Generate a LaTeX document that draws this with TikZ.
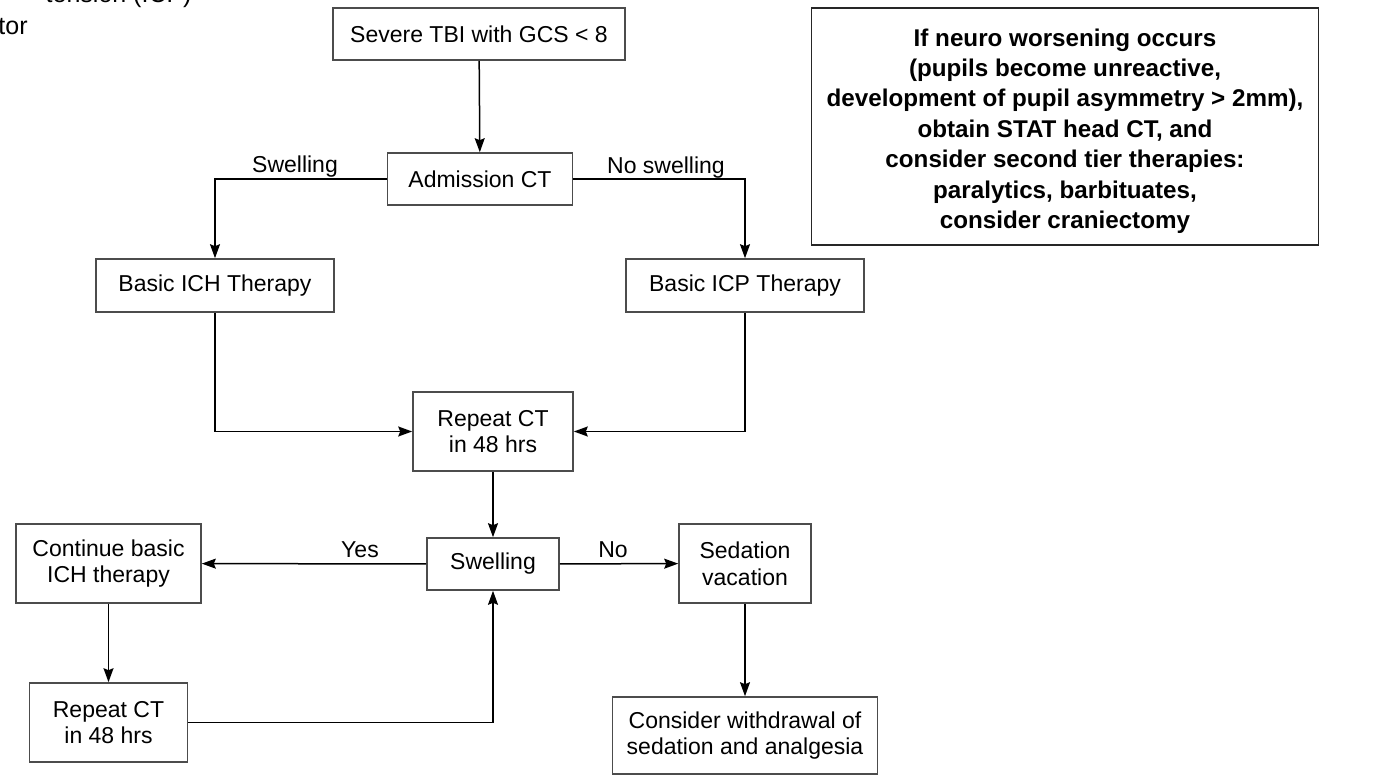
\documentclass[tikz,border=0pt]{standalone}
\usepackage{fontspec}
\setmainfont{Liberation Sans}
\usetikzlibrary{arrows.meta}

\begin{document}
\begin{tikzpicture}[x=0.5pt, y=-0.5pt,
    box/.style = {draw=black!70, line width=0.8pt, inner sep=0pt, align=center,
                  font=\fontsize{11.5}{13.3}\selectfont},
    note/.style = {draw=black!85, line width=0.9pt, inner sep=0pt},
    notetext/.style = {inner sep=0pt, align=center,
                       font=\fontsize{12.1}{15.2}\selectfont\bfseries},
    lbl/.style = {inner sep=0pt, font=\fontsize{11.5}{13.3}\selectfont},
    corner/.style = {inner sep=0pt, font=\fontsize{12.5}{15}\selectfont},
    arr/.style = {line width=0.75pt, -{Stealth[length=7pt, width=5pt, inset=1pt]}}]
    \useasboundingbox (0,0) rectangle (1397,775);
    % cut-off text in the corner
    \node[corner, anchor=base east] (top1) at (192,3) {tension (ICP)};
    \node[corner, anchor=base east] (top2) at (28,35) {tor};
    % boxes
    \node[box, minimum width=146pt, minimum height=26pt] (tbi) at (479,34) {Severe TBI with GCS < 8};
    \node[box, minimum width=92.5pt, minimum height=26pt] (adm) at (480,179) {Admission CT};
    \node[box, minimum width=119pt, minimum height=26.5pt] (ich) at (215,285.5) {Basic ICH Therapy};
    \node[box, minimum width=119pt, minimum height=26.5pt] (icp) at (745,285.5) {Basic ICP Therapy};
    \node[box, minimum width=80pt, minimum height=39.5pt] (rep) at (493,431.5) {Repeat CT\\in 48 hrs};
    \node[box, minimum width=66pt, minimum height=26pt] (swl) at (493,564) {Swelling};
    \node[box, minimum width=92.5pt, minimum height=39.5pt] (cont) at (108.5,563.5) {Continue basic\\ICH therapy};
    \node[box, minimum width=79pt, minimum height=39.5pt] (rep2) at (108.5,722.5) {Repeat CT\\in 48 hrs};
    \node[box, minimum width=66pt, minimum height=39.5pt] (sed) at (745,563.5) {Sedation\\vacation};
    \node[box, minimum width=132.5pt, minimum height=38.5pt] (wd) at (745,735.5) {Consider withdrawal of\\sedation and analgesia};
    \node[note, minimum width=253.5pt, minimum height=118.5pt] (nb) at (1065,126.5) {};
    \node[notetext] (nbt) at (1065,131) {If neuro worsening occurs\\(pupils become unreactive,\\development of pupil asymmetry > 2mm),\\obtain STAT head CT, and\\consider second tier therapies:\\paralytics, barbituates,\\consider craniectomy};
    % labels
    \node[lbl, anchor=base] (l1) at (295,173) {Swelling};
    \node[lbl, anchor=base] (l2) at (666,174) {No swelling};
    \node[lbl, anchor=base] (l3) at (360,557) {Yes};
    \node[lbl, anchor=base] (l4) at (613,557) {No};
    % arrows
    \draw[arr] (tbi) -- (adm);
    \draw[arr] (adm) -| (ich);
    \draw[arr] (adm) -| (icp);
    \draw[arr] (ich) |- (rep);
    \draw[arr] (icp) |- (rep);
    \draw[arr] (rep) -- (swl);
    \draw[arr] (swl) -- (cont);
    \draw[arr] (swl) -- (sed);
    \draw[arr] (cont) -- (rep2);
    \draw[arr] (sed) -- (wd);
    \draw[arr] (rep2) -| (swl);
\end{tikzpicture}
\end{document}
